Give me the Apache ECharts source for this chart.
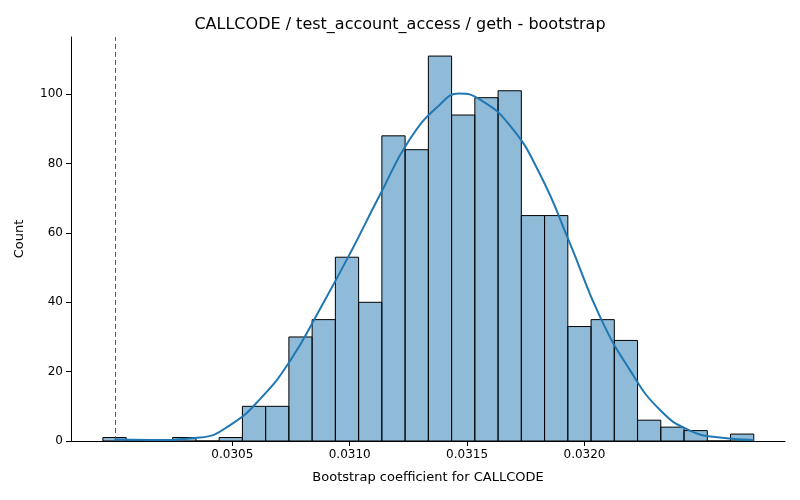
<!DOCTYPE html>
<html><head><meta charset="utf-8">
<script src="https://cdn.jsdelivr.net/npm/echarts@6/dist/echarts.min.js"></script>
<style>html,body{margin:0;background:#fff}#main{width:800px;height:500px}</style>
</head><body><div id="main"></div>
<script>
// histogram bins: left edge, width, counts
var binStart = 0.029949
var binWidth = 0.000099
var counts = [1, 0, 0, 1, 0, 1, 10, 10, 30, 35, 53, 40, 88, 84, 111, 94, 99, 101, 65, 65, 33, 35, 29, 6, 4, 3, 0, 2]
// KDE curve points
var kdeX = [0.029998, 0.030149, 0.030362, 0.030489, 0.030617, 0.030745, 0.030873, 0.031001, 0.031129, 0.031256, 0.031384, 0.031465, 0.031554, 0.031682, 0.031810, 0.031938, 0.032065, 0.032193, 0.032321, 0.032449, 0.032576, 0.032721]
var kdeY = [0.4, 0.3, 1, 4.5, 12, 23, 38, 54, 71, 87, 97, 100.2, 98.5, 91, 77, 57, 36, 20.5, 9, 3, 1, 0.3]
var meanLine = 0.031465

var myChart = echarts.init(document.getElementById('main'))
var tf = 'DejaVu Sans'
var bars = counts.map(function (c, i) { return [binStart + i * binWidth, binStart + (i + 1) * binWidth, c] })

var option = {
  animation: false,
  textStyle: { fontFamily: tf },
  title: { text: 'CALLCODE / test_account_access / geth - bootstrap', left: 'center', top: 12,
    textStyle: { fontFamily: tf, fontSize: 16, fontWeight: 'normal', color: '#000' } },
  grid: { left: 71, right: 15, top: 37, bottom: 59 },
  xAxis: {
    type: 'value', min: 0.029813, max: 0.032854,
    name: 'Bootstrap coefficient for CALLCODE', nameLocation: 'middle', nameGap: 30,
    nameTextStyle: { fontSize: 13, color: '#000' },
    axisLine: { lineStyle: { color: '#000' } },
    axisTick: { lineStyle: { color: '#000' } },
    axisLabel: { color: '#000', fontSize: 12, showMinLabel: false, showMaxLabel: false,
      customValues: [0.03, 0.0305, 0.031, 0.0315, 0.032, 0.0325], formatter: function (v) { return v.toFixed(4) } },
    axisTick: { customValues: [0.03, 0.0305, 0.031, 0.0315, 0.032, 0.0325], lineStyle: { color: '#000' } },
    splitLine: { show: false }
  },
  yAxis: {
    type: 'value', min: 0, max: 116.5, interval: 20,
    name: 'Count', nameLocation: 'middle', nameGap: 45, nameTextStyle: { fontSize: 13, color: '#000' },
    axisLine: { show: true, lineStyle: { color: '#000' } },
    axisTick: { show: true, lineStyle: { color: '#000' } },
    axisLabel: { color: '#000', fontSize: 12, showMaxLabel: false },
    splitLine: { show: false }
  },
  series: [
    {
      type: 'custom', data: bars, encode: { x: [0, 1], y: 2 },
      renderItem: function (params, api) {
        var p0 = api.coord([api.value(0), api.value(2)])
        var p1 = api.coord([api.value(1), 0])
        return { type: 'rect', shape: { x: p0[0], y: p0[1], width: p1[0] - p0[0], height: p1[1] - p0[1] },
          style: { fill: 'rgba(31,119,180,0.5)', stroke: '#000', lineWidth: 1 } }
      }
    },
    {
      type: 'line', smooth: true, symbol: 'none',
      data: kdeX.map(function (x, i) { return [x, kdeY[i]] }),
      lineStyle: { color: '#1f77b4', width: 2 },
      markLine: { silent: true, symbol: 'none', label: { show: false },
        lineStyle: { color: '#d62728', type: [5, 3], width: 1 },
        data: [{ xAxis: meanLine }] }
    }
  ]
}
myChart.setOption(option)
</script></body></html>
